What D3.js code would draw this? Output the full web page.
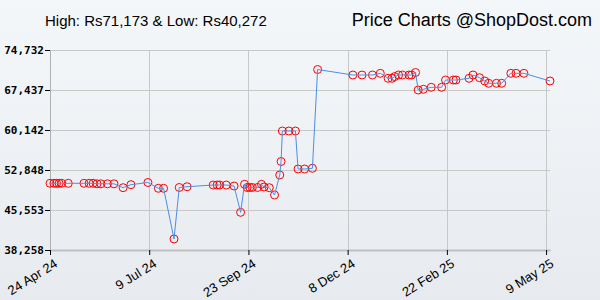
<!DOCTYPE html>
<html>
<head>
<meta charset="utf-8">
<script src="https://cdn.jsdelivr.net/npm/d3@7"></script>
<style>
  body { margin: 0; background: #eef2f5; }
  svg { display: block; }
  .grid line { stroke: #c8c8c8; stroke-width: 1; }
  .ylab { font: bold 11px "DejaVu Sans Mono", monospace; fill: #000; }
  .xlab { font: 13px "Liberation Sans", Arial, sans-serif; fill: #000; }
</style>
</head>
<body>
<script>
// price history
var dates = ["2024-04-24","2024-04-27","2024-04-29","2024-05-01","2024-05-03","2024-05-08",
  "2024-05-20","2024-05-24","2024-05-27","2024-05-30","2024-06-02","2024-06-07","2024-06-12",
  "2024-06-19","2024-06-25","2024-07-08","2024-07-16","2024-07-20","2024-07-28","2024-08-01",
  "2024-08-07","2024-08-27","2024-08-30","2024-09-01","2024-09-06","2024-09-12","2024-09-17",
  "2024-09-20","2024-09-22","2024-09-24","2024-09-26","2024-09-30","2024-10-03","2024-10-05",
  "2024-10-09","2024-10-13","2024-10-17","2024-10-18","2024-10-19","2024-10-24","2024-10-29",
  "2024-10-31","2024-11-05","2024-11-11","2024-11-15","2024-12-12","2024-12-19","2024-12-27",
  "2025-01-02","2025-01-08","2025-01-11","2025-01-13","2025-01-16","2025-01-19","2025-01-24",
  "2025-01-26","2025-01-29","2025-01-31","2025-02-04","2025-02-10","2025-02-18","2025-02-21",
  "2025-02-27","2025-03-01","2025-03-11","2025-03-14","2025-03-19","2025-03-23","2025-03-26",
  "2025-04-01","2025-04-05","2025-04-12","2025-04-16","2025-04-22","2025-05-12"];
var prices = [50420,50420,50420,50420,50420,50420,
  50420,50420,50420,50330,50330,50330,50330,
  49620,50170,50570,49510,49510,40272,49660,
  49800,50110,50110,50110,50110,49930,45130,
  50240,49660,49660,49660,49660,50240,49750,
  49620,48290,51940,54400,59960,59960,59960,
  53030,53030,53160,71173,70170,70170,70170,
  70480,69570,69570,69880,70170,70170,70170,
  70170,70630,67437,67570,67930,67930,69260,
  69260,69260,69570,70170,69680,69080,68660,
  68660,68660,70480,70480,70480,69080];

var yTicks = [38258, 45553, 52848, 60142, 67437, 74732];
var xTicks = ["2024-04-24","2024-07-09","2024-09-23","2024-12-08","2025-02-22","2025-05-09"];
var xTickLabels = ["24 Apr 24","9 Jul 24","23 Sep 24","8 Dec 24","22 Feb 25","9 May 25"];

var width = 600, height = 300;
var margin = {top: 50, right: 50, bottom: 50, left: 50};

var parse = d3.timeParse("%Y-%m-%d");
var data = dates.map(function(d, i){ return {date: parse(d), price: prices[i]}; });

var svg = d3.select("body").append("svg")
    .attr("width", width)
    .attr("height", height);

var defs = svg.append("defs");
var grad = defs.append("linearGradient").attr("id", "bg")
    .attr("x1", 0).attr("y1", 0).attr("x2", 0).attr("y2", 1);
grad.append("stop").attr("offset", "0%").attr("stop-color", "#f4f7fa");
grad.append("stop").attr("offset", "100%").attr("stop-color", "#e7ebef");

svg.append("rect").attr("width", width).attr("height", height).attr("fill", "url(#bg)");

var x = d3.scaleTime()
    .domain([parse("2024-04-24"), parse("2025-05-12")])
    .range([margin.left, width - margin.right]);

var y = d3.scaleLinear()
    .domain([yTicks[0], yTicks[yTicks.length - 1]])
    .range([height - margin.bottom, margin.top]);

// grid
var grid = svg.append("g").attr("class", "grid");
grid.selectAll(".h").data(yTicks).enter().append("line")
    .attr("x1", margin.left).attr("x2", width - margin.right)
    .attr("y1", function(d){ return Math.round(y(d)) + 0.5; })
    .attr("y2", function(d){ return Math.round(y(d)) + 0.5; });
grid.selectAll(".v").data(xTicks).enter().append("line")
    .attr("x1", function(d){ return Math.round(x(parse(d))) + 0.5; })
    .attr("x2", function(d){ return Math.round(x(parse(d))) + 0.5; })
    .attr("y1", margin.top).attr("y2", height - margin.bottom);

// axes
var yAxis = d3.axisLeft(y).tickValues(yTicks).tickFormat(d3.format(",")).tickSize(5).tickPadding(1);
var gy = svg.append("g").attr("transform", "translate(" + margin.left + ",0)").call(yAxis);
gy.select(".domain").attr("stroke", "#b0b0b0");
gy.selectAll(".tick line").attr("stroke", "#000");
gy.selectAll("text").attr("class", "ylab").attr("fill", "#000");

var xAxis = d3.axisBottom(x)
    .tickValues(xTicks.map(parse))
    .tickFormat(function(d, i){ return xTickLabels[i]; })
    .tickSizeInner(5).tickSizeOuter(0);
var gx = svg.append("g").attr("transform", "translate(0," + (height - margin.bottom) + ")").call(xAxis);
gx.select(".domain").attr("stroke", "#c0c0c0").attr("stroke-width", 2);
gx.selectAll(".tick line").attr("stroke", "#000");
gx.selectAll("text")
    .attr("class", "xlab")
    .attr("fill", "#000")
    .attr("text-anchor", "end")
    .attr("dy", null)
    .attr("y", 0)
    .attr("transform", "translate(8,16) rotate(-32)");

// price line
var line = d3.line()
    .x(function(d){ return x(d.date); })
    .y(function(d){ return y(d.price); });

svg.selectAll(".dot").data(data).enter().append("circle")
    .attr("class", "dot")
    .attr("cx", function(d){ return x(d.date); })
    .attr("cy", function(d){ return y(d.price); })
    .attr("r", 4)
    .attr("fill", "none")
    .attr("stroke", "#ff0000")
    .attr("stroke-width", 1);

svg.append("path")
    .datum(data)
    .attr("fill", "none")
    .attr("stroke", "#4a8fe8")
    .attr("stroke-width", 1)
    .attr("d", line);

// titles
svg.append("text")
    .attr("x", 45).attr("y", 26)
    .style("font", "15px 'Liberation Sans', Arial, sans-serif")
    .text("High: Rs71,173 & Low: Rs40,272");

svg.append("text")
    .attr("x", 592).attr("y", 26)
    .attr("text-anchor", "end")
    .style("font", "18px 'Liberation Sans', Arial, sans-serif")
    .text("Price Charts @ShopDost.com");
</script>
</body>
</html>
